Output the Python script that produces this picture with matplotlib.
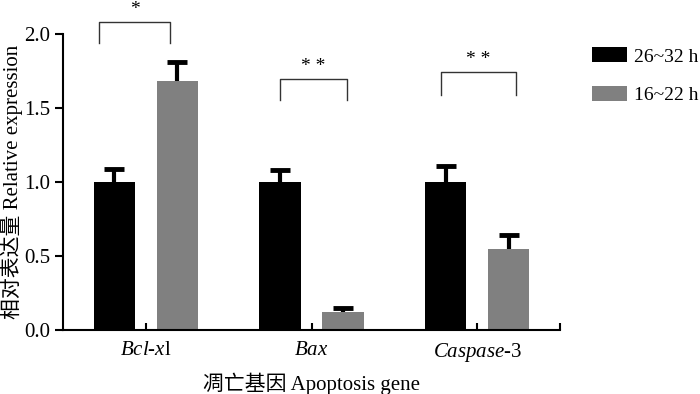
import numpy as np
import matplotlib
matplotlib.use('Agg')
import matplotlib.pyplot as plt
from matplotlib.patches import Patch

plt.rcParams.update({
    'font.family': ['Liberation Serif', 'Noto Sans CJK SC'],
    'mathtext.fontset': 'custom',
    'mathtext.rm': 'Liberation Serif',
    'mathtext.it': 'Liberation Serif:italic',
    'font.size': 15,
    'axes.linewidth': 1.5,
})

genes = [r'$\mathit{Bcl}$-$\mathit{x}$l', r'$\mathit{Bax}$', r'$\mathit{Caspase}$-3']
series = ['26~32 h', '16~22 h']
mean_late = [1.00, 1.00, 1.00]
err_late = [0.09, 0.08, 0.11]
mean_early = [1.68, 0.12, 0.55]
err_early = [0.13, 0.03, 0.09]
sig_marks = ['*', '* *', '* *']
# bracket (left x, right x, leg bottom, top) in data units
brackets = [(-0.28, 0.145, 1.94, 2.08),
            (0.81, 1.215, 1.555, 1.695),
            (1.78, 2.235, 1.59, 1.74)]

COL_LATE = '#000000'
COL_EARLY = '#808080'

fig = plt.figure(figsize=(7.0, 3.94), dpi=100)
ax = fig.add_axes([0.09, 0.1624, 0.71, 0.7513])

x = np.arange(len(genes))
w = 0.25
off = 0.19
ax.bar(x - off, mean_late, w, color=COL_LATE, zorder=2)
ax.bar(x + off, mean_early, w, color=COL_EARLY, zorder=2)
for xs, m, e in [(x - off, mean_late, err_late), (x + off, mean_early, err_early)]:
    eb = ax.errorbar(xs, m, yerr=[np.zeros(3), e], fmt='none', ecolor='#000000',
                     elinewidth=3, capsize=7, capthick=3.5, zorder=3)
    eb[1][0].set_visible(False)  # lower caps off, only upper error shown

for (x0, x1, yb, yt), s in zip(brackets, sig_marks):
    ax.plot([x0, x0, x1, x1], [yb, yt, yt, yb], color='#333333', lw=1.0,
            clip_on=False)
    ax.text((x0 + x1) / 2, yt + 0.03, s, ha='center', va='bottom',
            fontsize=14, clip_on=False)

ax.set_xlim(-0.5, 2.5)
ax.set_ylim(0, 2.0)
ax.set_yticks([0.0, 0.5, 1.0, 1.5, 2.0])
ax.set_yticklabels(['0.0', '0.5', '1.0', '1.5', '2.0'])
ax.set_xticks(x)
ax.set_xticklabels(genes)
ax.set_xticks([2.5], minor=True)
ax.tick_params(axis='y', direction='out', length=6, width=1.5, pad=3)
ax.tick_params(axis='x', which='both', direction='in', length=5, width=1.5, pad=8)
ax.spines['top'].set_visible(False)
ax.spines['right'].set_visible(False)

ax.set_ylabel('相对表达量 Relative expression')
ax.set_xlabel('凋亡基因 Apoptosis gene')
ax.yaxis.set_label_coords(-0.08, 0.5)
ax.xaxis.set_label_coords(0.5, -0.145)

handles = [Patch(facecolor=COL_LATE, edgecolor='none', label=series[0]),
           Patch(facecolor=COL_EARLY, edgecolor='none', label=series[1])]
fig.legend(handles=handles, loc='upper left', bbox_to_anchor=(0.845, 0.88),
           frameon=False, fontsize=14, handlelength=1.85, handleheight=0.82,
           handletextpad=0.35, labelspacing=1.05, borderpad=0, borderaxespad=0)

fig.savefig('out.png', dpi=100)
